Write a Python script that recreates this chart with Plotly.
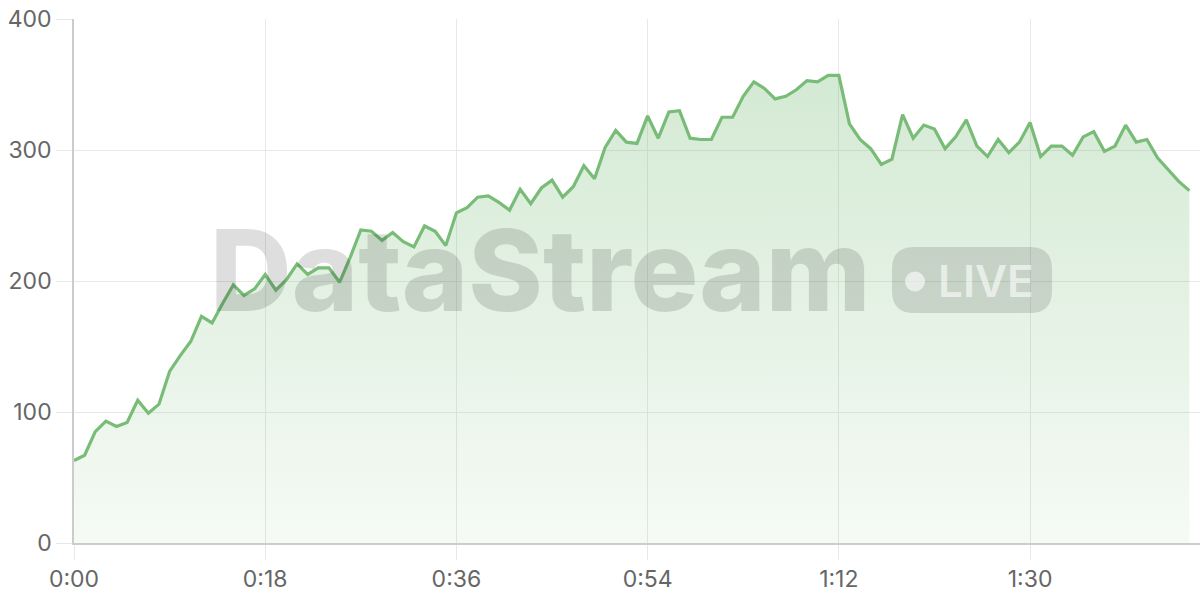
import plotly.graph_objects as go

# one sample per second
seconds = list(range(106))
values = [
    63, 67, 85, 93, 89, 92, 109, 99, 106, 131,
    143, 154, 173, 168, 183, 197, 189, 194, 205, 193,
    201, 213, 205, 210, 210, 199, 218, 239, 238, 231,
    237, 230, 226, 242, 238, 227, 252, 256, 264, 265,
    260, 254, 270, 259, 271, 277, 264, 272, 288, 278,
    302, 315, 306, 305, 326, 309, 329, 330, 309, 308,
    308, 325, 325, 341, 352, 347, 339, 341, 346, 353,
    352, 357, 357, 320, 308, 301, 289, 293, 327, 309,
    319, 316, 301, 310, 323, 303, 295, 308, 298, 306,
    321, 295, 303, 303, 296, 310, 314, 299, 303, 319,
    306, 308, 294, 285, 276, 269,
]

x_tickvals = [0, 18, 36, 54, 72, 90]
x_ticktext = ["0:00", "0:18", "0:36", "0:54", "1:12", "1:30"]
y_tickvals = [0, 100, 200, 300, 400]

LINE = "rgb(120,188,120)"
FONT = "Inter"

W, H = 1200, 600
# plot area in pixels (used only for placing the watermark)
L, R, T, B = 74, 1200, 19, 543


def px(x):
    return (x - L) / (R - L)


def py(y):
    return (B - y) / (B - T)


def rounded_rect(x0, y0, x1, y1, r):
    # pixel box -> paper path with rounded corners
    a, b, c, d = px(x0), px(x1), py(y0), py(y1)
    rx, ry = r / (R - L), r / (B - T)
    return (
        f"M{a + rx},{c} L{b - rx},{c} Q{b},{c} {b},{c - ry} "
        f"L{b},{d + ry} Q{b},{d} {b - rx},{d} "
        f"L{a + rx},{d} Q{a},{d} {a},{d + ry} "
        f"L{a},{c - ry} Q{a},{c} {a + rx},{c} Z"
    )


fig = go.Figure()

fig.add_trace(go.Scatter(
    x=seconds,
    y=values,
    mode="lines",
    line=dict(color=LINE, width=3.2),
    fill="tozeroy",
    fillgradient=dict(
        type="vertical",
        colorscale=[[0, "rgba(120,188,120,0.07)"], [1, "rgba(120,188,120,0.32)"]],
    ),
    hoverinfo="skip",
))

# watermark
fig.add_annotation(
    xref="paper", yref="paper", x=px(540), y=py(270),
    text="DataStream", showarrow=False,
    font=dict(family=FONT, size=113, color="rgba(0,0,0,0.13)", weight=800),
    xanchor="center", yanchor="middle",
)
fig.add_shape(
    type="path", xref="paper", yref="paper",
    path=rounded_rect(892, 247, 1052, 313, 22),
    fillcolor="rgba(0,0,0,0.12)", line=dict(width=0), layer="above",
)
fig.add_shape(
    type="circle", xref="paper", yref="paper",
    x0=px(905), x1=px(925), y0=py(291.5), y1=py(271.5),
    fillcolor="rgba(255,255,255,0.6)", line=dict(width=0), layer="above",
)
fig.add_annotation(
    xref="paper", yref="paper", x=px(986), y=py(281),
    text="LIVE", showarrow=False,
    font=dict(family=FONT, size=44, color="rgba(255,255,255,0.6)", weight=600),
    xanchor="center", yanchor="middle",
)

fig.update_layout(
    width=W,
    height=H,
    margin=dict(l=L, r=W - R, t=T, b=H - B),
    plot_bgcolor="white",
    paper_bgcolor="white",
    showlegend=False,
    font=dict(family=FONT, size=23, color="#666666"),
    xaxis=dict(
        range=[0, 106],
        tickvals=x_tickvals,
        ticktext=x_ticktext,
        showgrid=True,
        gridcolor="#e8e8e8",
        gridwidth=1,
        zeroline=False,
        showline=True,
        linecolor="#cccccc",
        linewidth=1.5,
        ticks="outside",
        ticklen=15,
        tickcolor="#e8e8e8",
        tickfont=dict(size=23, color="#666666"),
    ),
    yaxis=dict(
        range=[0, 400],
        tickvals=y_tickvals,
        showgrid=True,
        gridcolor="#e8e8e8",
        gridwidth=1,
        zeroline=False,
        showline=True,
        linecolor="#cccccc",
        linewidth=1.5,
        ticks="outside",
        ticklen=16,
        tickcolor="#e8e8e8",
        tickfont=dict(size=23, color="#666666"),
    ),
)

# drop the default 8px page margin so the figure sits at the window corner
fig.write_html(
    "out.html",
    config={"displayModeBar": False},
    post_script="document.body.style.margin='0';",
)
